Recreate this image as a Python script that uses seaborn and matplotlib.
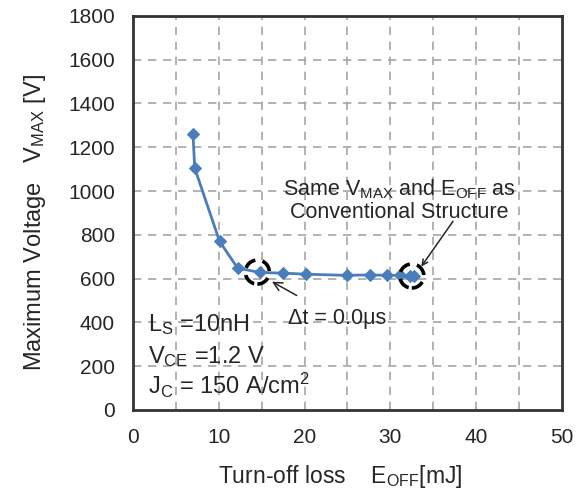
import matplotlib
matplotlib.use("Agg")
import matplotlib.pyplot as plt
from matplotlib.patches import Ellipse
import seaborn as sns
import numpy as np

eoff = [7.0, 7.2, 10.1, 12.2, 14.8, 17.5, 20.2, 24.9, 27.6, 29.6, 31.1, 32.3, 32.7]
vmax = [1260, 1105, 770, 648, 628, 625, 620, 615, 617, 615, 615, 614, 612]
x_ticks = [0, 10, 20, 30, 40, 50]
y_ticks = [0, 200, 400, 600, 800, 1000, 1200, 1400, 1600, 1800]
circled = [(14.5, 630), (32.5, 612)]

sns.set_style("white")
plt.rcParams['font.family'] = ['Liberation Sans', 'DejaVu Sans']
plt.rcParams['mathtext.fontset'] = 'custom'
plt.rcParams['mathtext.rm'] = 'Liberation Sans'
plt.rcParams['mathtext.it'] = 'Liberation Sans'

fig = plt.figure(figsize=(5.83, 4.92), dpi=100)
ax = fig.add_axes([0.228, 0.1667, 0.736, 0.801])

ax.set_xlim(0, 50)
ax.set_ylim(0, 1800)

for xv in np.arange(5, 50, 5):
    ax.axvline(xv, color='#a6a6a6', lw=1.2, ls=(0, (5, 4)), zorder=0)
for yv in np.arange(200, 1800, 200):
    ax.axhline(yv, color='#a6a6a6', lw=1.2, ls=(0, (5, 4)), zorder=0)

sns.lineplot(x=eoff, y=vmax, sort=False, ax=ax, color='#4a7ebb', lw=2,
             marker='D', markersize=6.5, markeredgecolor='#4a7ebb', zorder=3)

for cx, cy in circled:
    w = 24 / 8.58
    h = 24 / 0.2189
    e = Ellipse((cx, cy), w, h, fill=False, edgecolor='black', lw=2.6,
                ls=(0, (3.5, 2)), zorder=5)
    ax.add_patch(e)

ax.set_xticks(np.arange(0, 51, 5))
ax.set_xticklabels([str(v) if v in x_ticks else '' for v in np.arange(0, 51, 5)])
ax.set_yticks(y_ticks)
ax.set_yticklabels([str(v) for v in y_ticks])
ax.tick_params(axis='both', direction='out', length=7, width=1.2,
               color='#a6a6a6', labelsize=15, labelcolor='#262626', pad=6)

for s in ax.spines.values():
    s.set_color('#333333')
    s.set_linewidth(2)
    s.set_visible(True)

ax.set_xlabel(r'Turn-off loss    E$_{\mathrm{OFF}}$[mJ]', fontsize=16.5,
              color='#262626')
ax.xaxis.set_label_coords(0.4825, -0.135)
ax.set_ylabel(r'Maximum Voltage   V$_{\mathrm{MAX}}$ [V]', fontsize=17,
              color='#262626')
ax.yaxis.set_label_coords(-0.198, 0.475)

ax.text(1.7, 388, r'L$_{\mathrm{S}}$ =10nH', fontsize=17, color='#262626', va='center')
ax.text(1.7, 245, r'V$_{\mathrm{CE}}$ =1.2 V', fontsize=17, color='#262626', va='center')
ax.text(1.7, 114, r'J$_{\mathrm{C}}$ = 150 A/cm$^{2}$', fontsize=17, color='#262626', va='center')

ax.annotate('Δt = 0.0μs', xy=(16.2, 586), xytext=(23.8, 420),
            fontsize=15.5, color='#262626', ha='center', va='center',
            arrowprops=dict(arrowstyle='->', color='#262626', lw=1.1,
                            shrinkA=13, shrinkB=0))

ax.text(31.0, 959, r'Same V$_{\mathrm{MAX}}$ and E$_{\mathrm{OFF}}$ as' + '\n' + 'Conventional Structure',
        fontsize=15.5, color='#262626', ha='center', va='center', linespacing=1.1)
ax.annotate('', xy=(33.6, 655), xytext=(37.3, 862),
            arrowprops=dict(arrowstyle='->', color='#262626', lw=1.1,
                            shrinkA=0, shrinkB=0))

fig.savefig('out.png', dpi=100)
